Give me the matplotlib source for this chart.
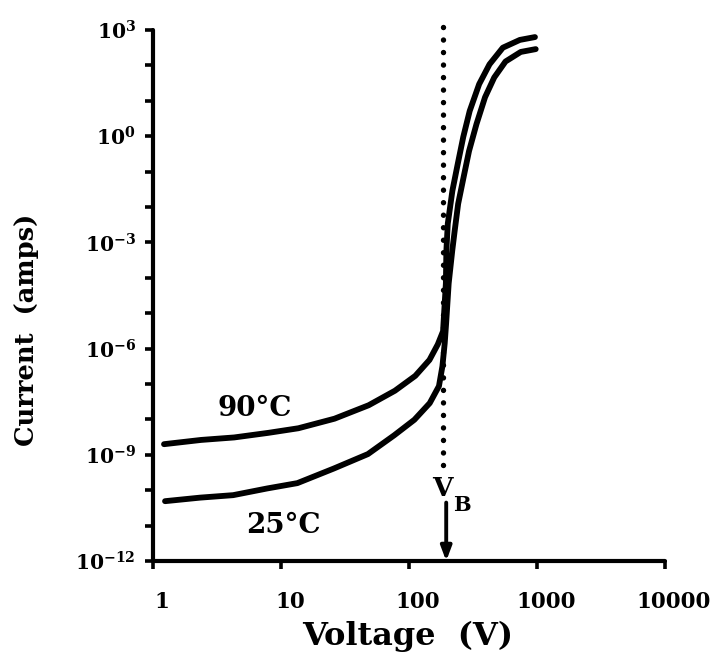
import numpy as np
import matplotlib
matplotlib.use("Agg")
import matplotlib.pyplot as plt
from matplotlib.ticker import FixedLocator, FixedFormatter, NullFormatter
from matplotlib.transforms import ScaledTranslation

# Data: log10 of voltage (V) and log10 of current (A)
logv_90 = [0.086, 0.376, 0.634, 0.901, 1.136, 1.418, 1.685, 1.890, 2.049, 2.160,
           2.225, 2.266, 2.288, 2.292, 2.303, 2.339, 2.381, 2.424, 2.474, 2.548,
           2.629, 2.733, 2.866, 2.984]
logi_90 = [-8.70, -8.58, -8.51, -8.38, -8.25, -7.98, -7.60, -7.19, -6.77, -6.32,
           -5.88, -5.51, -4.16, -3.23, -2.47, -1.54, -0.78, -0.02, 0.71, 1.47,
           2.03, 2.50, 2.72, 2.80]
logv_25 = [0.094, 0.368, 0.626, 0.893, 1.128, 1.411, 1.679, 1.884, 2.042, 2.162,
           2.234, 2.261, 2.279, 2.290, 2.310, 2.338, 2.357, 2.384, 2.427, 2.469,
           2.527, 2.594, 2.666, 2.754, 2.873, 2.990]
logi_25 = [-10.31, -10.21, -10.14, -9.95, -9.80, -9.39, -8.98, -8.45, -8.01, -7.54,
           -7.06, -6.50, -5.85, -5.29, -4.16, -3.23, -2.67, -1.91, -1.15, -0.42,
           0.34, 1.10, 1.66, 2.11, 2.38, 2.46]
label_90 = "90°C"
label_25 = "25°C"
v_breakdown = 186.0

x_ticks = [1, 10, 100, 1000, 10000]
x_tick_labels = ["1", "10", "100", "1000", "10000"]
y_major = [1e3, 1e0, 1e-3, 1e-6, 1e-9, 1e-12]
y_major_labels = [r"$\mathbf{10^{3}}$", r"$\mathbf{10^{0}}$", r"$\mathbf{10^{-3}}$",
                  r"$\mathbf{10^{-6}}$", r"$\mathbf{10^{-9}}$", r"$\mathbf{10^{-12}}$"]
y_minor = [10.0 ** k for k in range(-12, 4)]

v90 = 10.0 ** np.array(logv_90)
i90 = 10.0 ** np.array(logi_90)
v25 = 10.0 ** np.array(logv_25)
i25 = 10.0 ** np.array(logi_25)

plt.rcParams['font.family'] = ['DejaVu Serif']
plt.rcParams['mathtext.fontset'] = 'dejavuserif'

fig = plt.figure(figsize=(7.24, 6.57), dpi=100)
ax = fig.add_axes([153 / 724, 1 - 561 / 657, (665 - 153) / 724, 531 / 657])
ax.set_xscale('log')
ax.set_yscale('log')
ax.set_xlim(1, 10000)
ax.set_ylim(1e-12, 1e3)

lw = 4.2
for v, i in [(v90, i90), (v25, i25)]:
    ax.plot(v, i, color='black', lw=lw, solid_capstyle='round',
            solid_joinstyle='round', clip_on=False)

# breakdown voltage: dotted line and arrow
ax.plot([v_breakdown, v_breakdown], [10 ** -9.29, 10 ** 3.14], color='black', lw=3.9,
        linestyle=(0, (0.01, 2.3)), dash_capstyle='round', clip_on=False)
ax.annotate('', xy=(v_breakdown * 1.05, 1e-12), xytext=(v_breakdown * 1.05, 10 ** -10.35),
            arrowprops=dict(arrowstyle='-|>,head_length=0.85,head_width=0.32',
                            color='black', lw=2.8, shrinkA=0, shrinkB=0),
            annotation_clip=False)
ax.text(10 ** 2.26, 10 ** -9.94, 'V', fontsize=19, fontweight='bold', ha='center', va='center')
ax.text(10 ** 2.414, 10 ** -10.42, 'B', fontsize=15, fontweight='bold', ha='center', va='center')

ax.text(10 ** 0.794, 10 ** -7.70, label_90, fontsize=20, fontweight='bold', ha='center', va='center')
ax.text(10 ** 1.016, 10 ** -11.0, label_25, fontsize=20, fontweight='bold', ha='center', va='center')

for s in ['top', 'right']:
    ax.spines[s].set_visible(False)
for s in ['left', 'bottom']:
    ax.spines[s].set_linewidth(3.0)
    ax.spines[s].set_capstyle('round')

ax.xaxis.set_major_locator(FixedLocator(x_ticks))
ax.xaxis.set_major_formatter(FixedFormatter(x_tick_labels))
ax.xaxis.set_minor_locator(FixedLocator([]))
ax.yaxis.set_major_locator(FixedLocator(y_major))
ax.yaxis.set_major_formatter(FixedFormatter(y_major_labels))
ax.yaxis.set_minor_locator(FixedLocator(y_minor))
ax.yaxis.set_minor_formatter(NullFormatter())

ax.tick_params(axis='x', which='major', direction='out', length=5.5, width=2.6, pad=16, labelsize=15.5)
ax.tick_params(axis='y', which='both', direction='out', length=5.5, width=2.6, pad=7, labelsize=14.5)
shift = ScaledTranslation(9 / 100, 0, fig.dpi_scale_trans)
for lab in ax.get_xticklabels():
    lab.set_fontweight('bold')
    lab.set_transform(lab.get_transform() + shift)

fig.text(408 / 724, 1 - 636 / 657, 'Voltage  (V)', fontsize=23, fontweight='bold',
         ha='center', va='center')
fig.text(27 / 724, 1 - 330 / 657, 'Current  (amps)', fontsize=18.5, fontweight='bold',
         ha='center', va='center', rotation=90)

fig.savefig('out.png', dpi=100)
